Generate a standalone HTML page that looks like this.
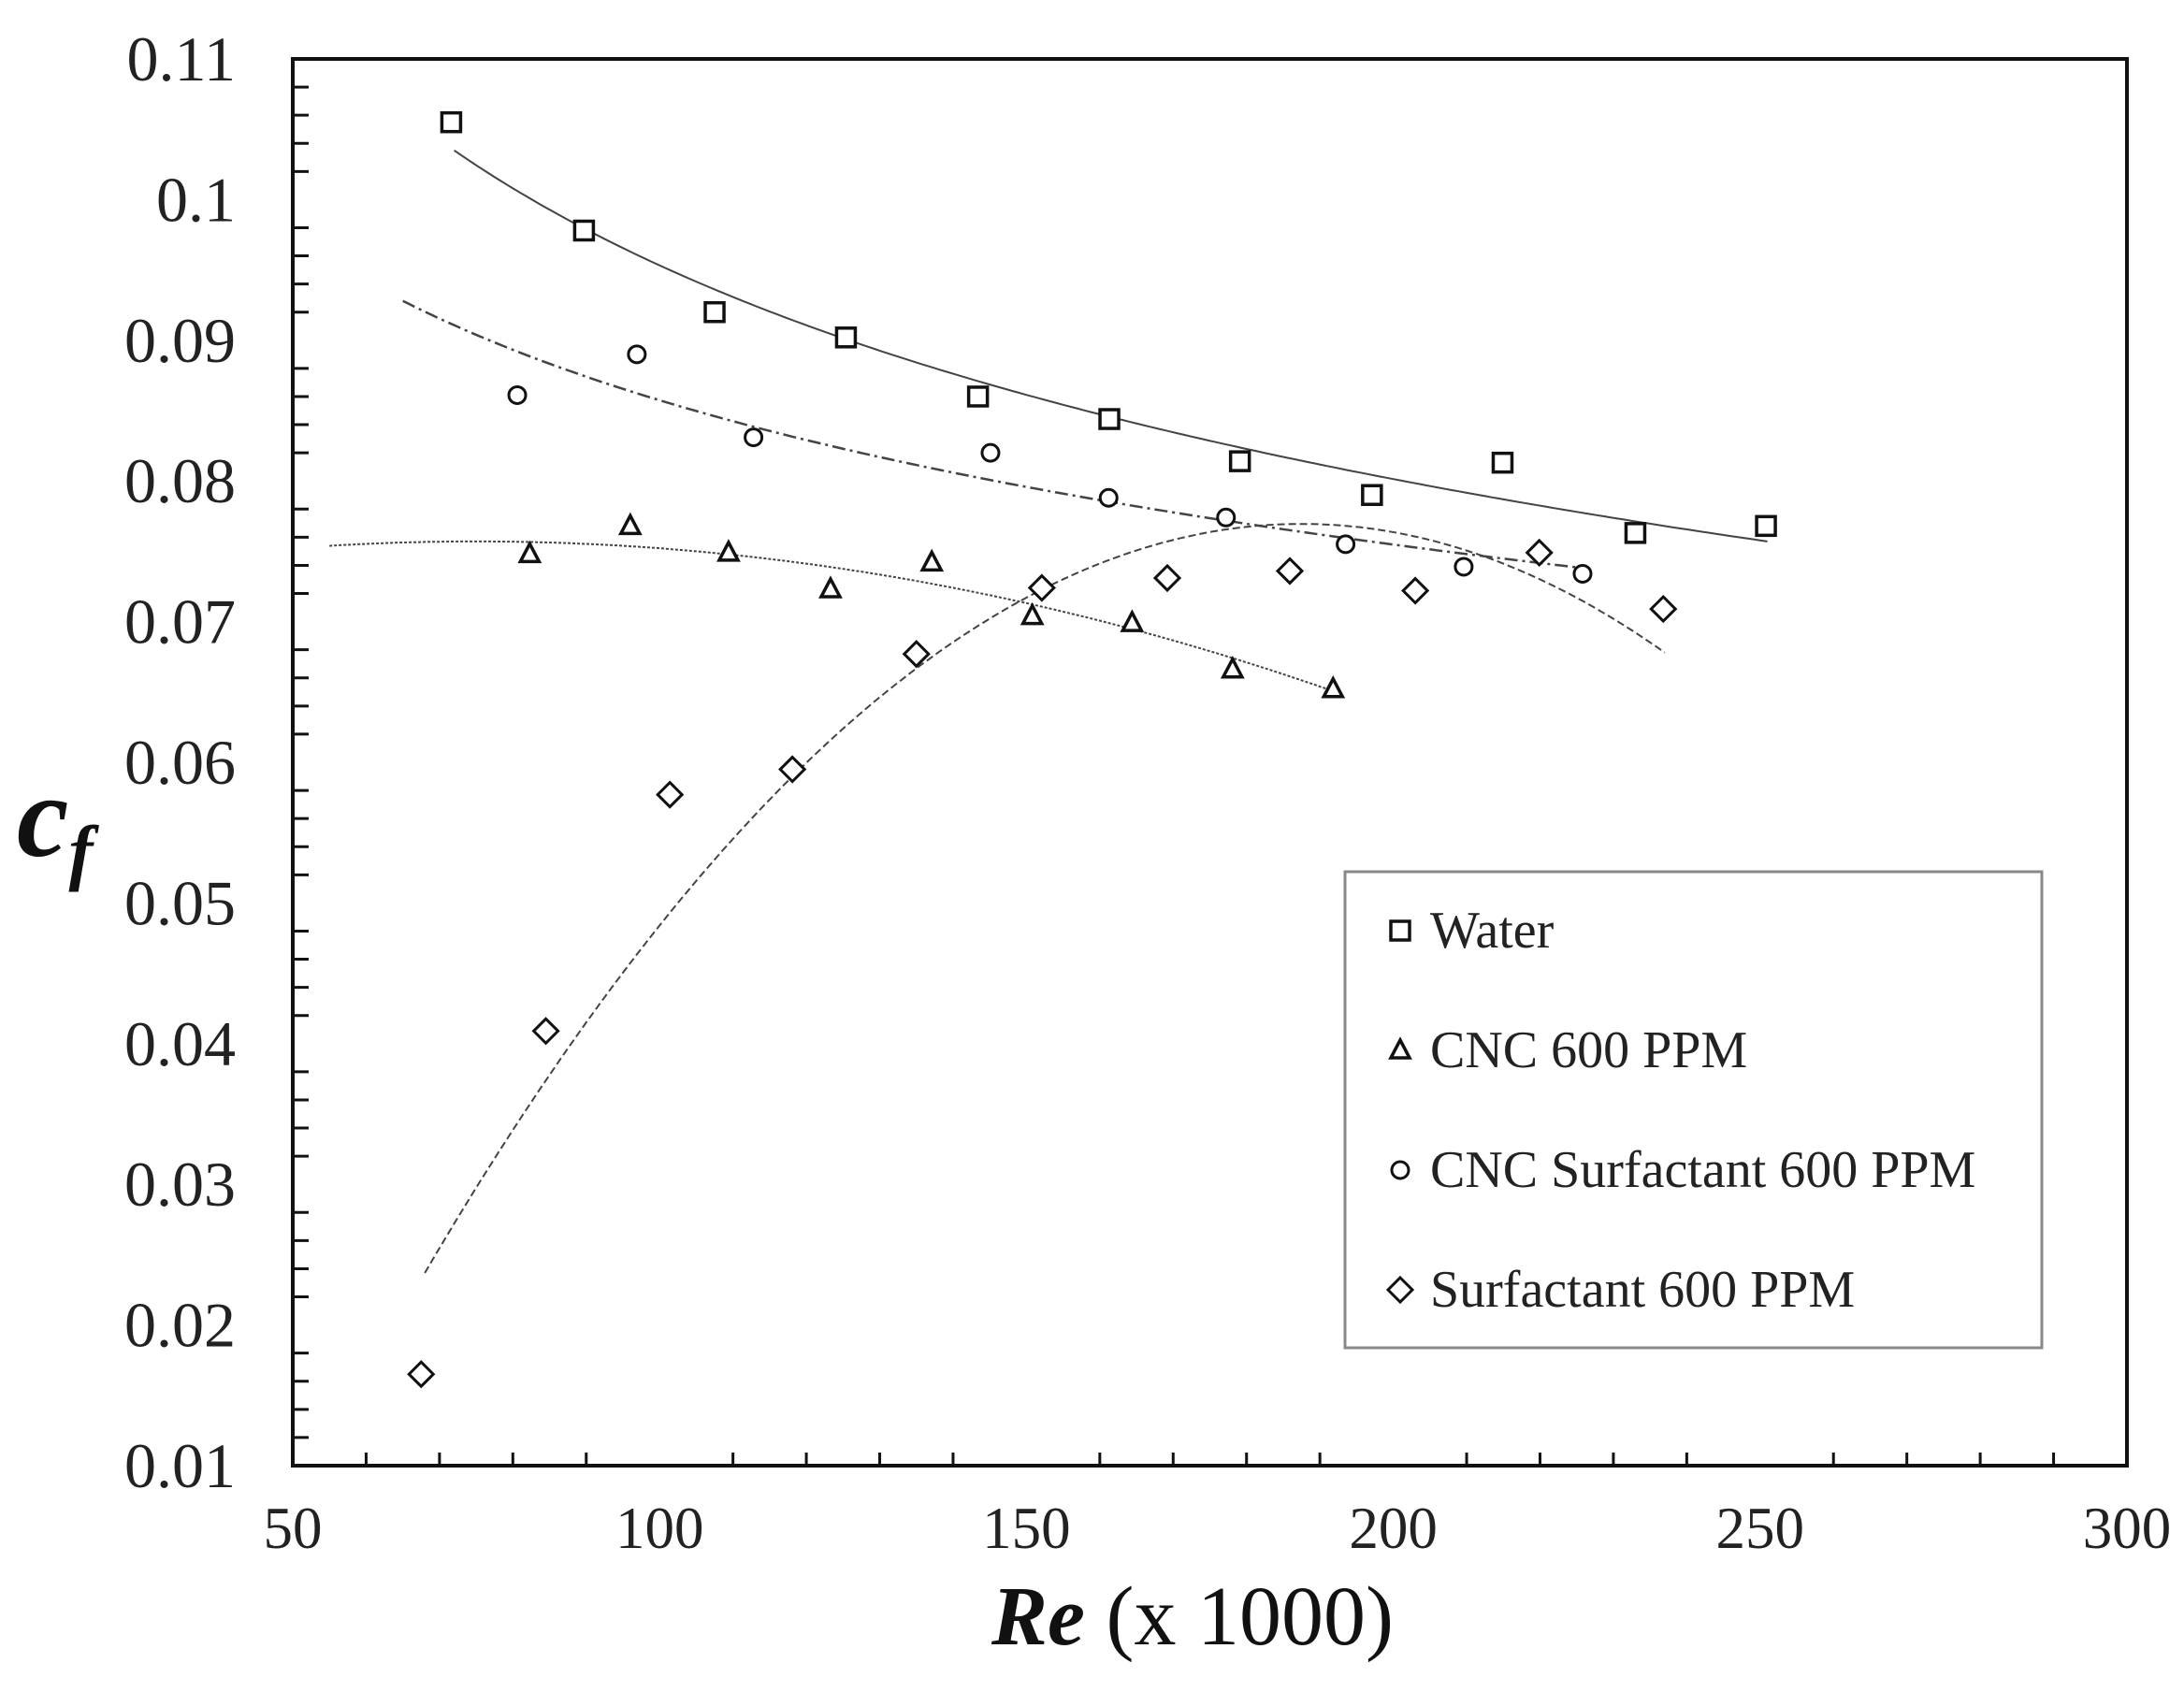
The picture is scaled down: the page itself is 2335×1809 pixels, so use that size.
<!DOCTYPE html>
<html><head><meta charset="utf-8"><style>
html,body{margin:0;padding:0;background:#fff;}
svg{display:block;font-family:"Liberation Serif",serif;}
</style></head><body>
<svg id="s" width="2335" height="1809" viewBox="0 0 2335 1809" xmlns="http://www.w3.org/2000/svg"></svg>
<script>
const L=313,R=2274,T=63,B=1567;
const X=v=>L+(v-50)*(R-L)/250, Y=v=>B-(v-0.01)*(B-T)/0.1;
let h='';
for(let v=50;v<=300;v+=10){const x=X(v);h+=`<line x1="${x}" y1="${B}" x2="${x}" y2="${B-(v%50==0?0:14)}" stroke="#111" stroke-width="3"/>`;}
for(let i=0;i<=50;i++){const y=Y(0.01+i*0.002);h+=`<line x1="${L}" y1="${y}" x2="${L+(i%5==0?0:17)}" y2="${y}" stroke="#111" stroke-width="3"/>`;}
h+=`<rect x="${L}" y="${T}" width="${R-L}" height="${B-T}" fill="none" stroke="#111" stroke-width="4"/>`;
for(let i=0;i<=10;i++){const v=0.01+i*0.01;let t=(Math.round(v*100)/100).toString();h+=`<text x="252" y="${Y(v)+23}" font-size="68" text-anchor="end" fill="#222">${t}</text>`;}
for(let v=50;v<=300;v+=50)h+=`<text x="${X(v)}" y="1655" font-size="63" text-anchor="middle" fill="#222">${v}</text>`;
h+=`<text x="1275" y="1758" font-size="90" text-anchor="middle" fill="#111"><tspan font-weight="bold" font-style="italic">Re</tspan> (x 1000)</text>`;
h+=`<text x="18" y="915" font-size="125" font-weight="bold" font-style="italic" fill="#111">c<tspan font-size="78" dy="22">f</tspan></text>`;
function curve(f,a,b,dash,w){let p='';for(let i=0;i<=200;i++){const x=a+(b-a)*i/200;p+=(i?'L':'M')+X(x).toFixed(1)+','+Y(f(x)).toFixed(1);}h+=`<path d="${p}" fill="none" stroke="#444" stroke-width="${w||2}" ${dash?`stroke-dasharray="${dash}"`:''}/>`;}
const bw=Math.log(0.1035/0.0757)/Math.log(251/72);
curve(x=>0.1035*Math.pow(72/x,bw),72,251,'',2);
const bc=Math.log(0.0928/0.0738)/Math.log(226/65);
curve(x=>0.0928*Math.pow(65/x,bc),65,226,'14,5,3,5',2.5);
curve(x=>0.0757-7.8e-7*(x-75)*(x-75),55,192,'3,2',2);
const P=[[68,0.0237],[184,0.0769],[237,0.0678]];
function lag(x){let s=0;for(let i=0;i<3;i++){let t=P[i][1];for(let j=0;j<3;j++)if(j!=i)t*=(x-P[j][0])/(P[i][0]-P[j][0]);s+=t;}return s;}
curve(lag,68,237,'8,4',2);
function sq(x,y){h+=`<rect x="${x-10}" y="${y-10}" width="20" height="20" fill="#fff" stroke="#111" stroke-width="3.5"/>`;}
function tri(x,y){h+=`<polygon points="${x},${y-11} ${x+10},${y+8} ${x-10},${y+8}" fill="#fff" stroke="#111" stroke-width="3.5"/>`;}
function ci(x,y){h+=`<circle cx="${x}" cy="${y}" r="9" fill="#fff" stroke="#111" stroke-width="3"/>`;}
function di(x,y){h+=`<polygon points="${x},${y-13} ${x+13},${y} ${x},${y+13} ${x-13},${y}" fill="#fff" stroke="#111" stroke-width="3"/>`;}
[[71.6,.1055],[89.7,.0978],[107.5,.092],[125.4,.0902],[143.4,.086],[161.3,.0844],[179.1,.0814],[197.1,.079],[214.9,.0813],[233,.0763],[250.8,.0768]].forEach(p=>sq(X(p[0]),Y(p[1])));
[[82.3,.0748],[96,.0768],[109.4,.0749],[123.3,.0723],[137.1,.0742],[150.8,.0704],[164.4,.0699],[178.1,.0666],[191.8,.0652]].forEach(p=>tri(X(p[0]),Y(p[1])));
[[80.6,.0861],[96.9,.089],[112.8,.0831],[145.1,.082],[161.2,.0788],[177.2,.0774],[193.5,.0755],[209.6,.0739],[225.8,.0734]].forEach(p=>ci(X(p[0]),Y(p[1])));
[[67.5,.0165],[84.5,.0409],[101.4,.0577],[118.1,.0595],[135,.0677],[152.1,.0724],[169.2,.0731],[185.9,.0736],[203,.0722],[219.9,.0749],[236.8,.0709]].forEach(p=>di(X(p[0]),Y(p[1])));
h+=`<rect x="1438" y="932" width="745" height="509" fill="#fff" stroke="#888" stroke-width="3"/>`;
const labs=['Water','CNC 600 PPM','CNC Surfactant 600 PPM','Surfactant 600 PPM'],fs=[sq,tri,ci,di];
labs.forEach((t,i)=>{const y=995+i*128;fs[i](1497,y);h+=`<text x="1529" y="${y+18}" font-size="56" fill="#222">${t}</text>`;});
document.getElementById('s').innerHTML=h;
</script>
</body></html>
